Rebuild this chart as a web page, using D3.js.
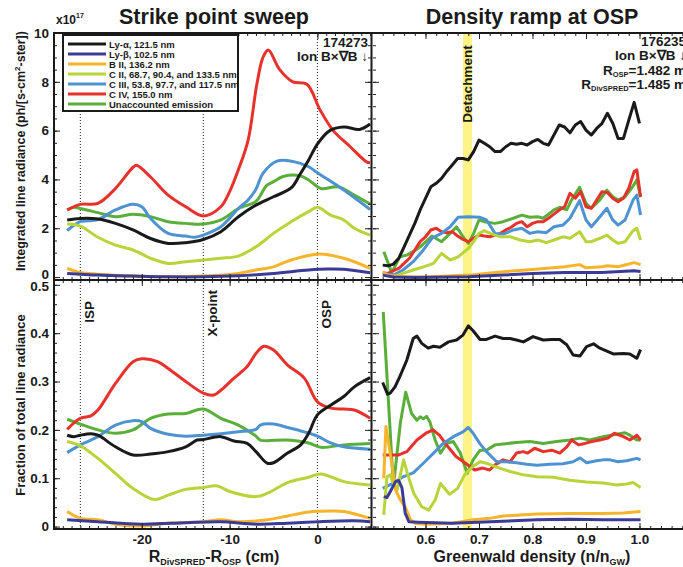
<!DOCTYPE html>
<html>
<head>
<meta charset="utf-8">
<script src="https://cdnjs.cloudflare.com/ajax/libs/d3/7.8.5/d3.min.js"></script>
<style>
body { margin: 0; background: #fff; }
text { font-family: "Liberation Sans", Arial, sans-serif; font-weight: bold; fill: #1a1a1a; }
</style>
</head>
<body>
<div id="chart"></div>
<script>
// legend order
var seriesLabels = ['Ly-α, 121.5 nm', 'Ly-β, 102.5 nm', 'B II, 136.2 nm', 'C II, 68.7, 90.4, and 133.5 nm',
  'C III, 53.8, 97.7, and 117.5 nm', 'C IV, 155.0 nm', 'Unaccounted emission']
var seriesColors = ['#1a1a1a', '#3b3b96', '#f6b42c', '#b9d43a', '#4e93d1', '#e6322b', '#5aae3a']

// strike point sweep, integrated radiance (x10^17), x in cm
var sweepRadLyA = [[-28.5,2.34],[-27,2.40],[-25,2.38],[-23,2.2],[-21,1.93],[-19,1.58],[-17,1.38],[-15,1.41],[-13,1.54],[-11,1.86],[-9,2.47],[-7,2.95],[-5,3.29],[-3,3.65],[-2,4.2],[-1,4.8],[0,5.45],[1.4,6.0],[3,6.15],[4.8,6.05],[6,6.27]]
var sweepRadLyB = [[-28.5,0.15],[-25,0.08],[-21,0.04],[-17,0.01],[-13,0.01],[-9,0.05],[-5,0.15],[-1,0.29],[1.1,0.33],[3,0.32],[6,0.18]]
var sweepRadB2 = [[-28.5,0.36],[-27,0.19],[-25,0.12],[-21,0.04],[-17,0.01],[-13,0.04],[-9,0.15],[-7,0.29],[-5,0.42],[-3,0.70],[0,0.94],[3,0.77],[6,0.36]]
var sweepRadC2 = [[-28.5,2.17],[-27,2.09],[-25,1.63],[-23,1.31],[-21,1.11],[-19,0.77],[-17,0.56],[-15,0.63],[-13,0.70],[-11,0.77],[-9,0.86],[-7,1.24],[-5,1.79],[-3,2.27],[-1,2.68],[0,2.86],[1.5,2.54],[3,2.34],[4.2,2.0],[6,1.72]]
var sweepRadC3 = [[-28.5,1.90],[-27.7,2.13],[-27,2.27],[-25,2.36],[-23,2.75],[-21,2.98],[-20,2.88],[-19,2.4],[-17,1.79],[-15,1.68],[-14,1.63],[-13,1.72],[-11,2.06],[-9,2.81],[-7.9,3.16],[-7,3.6],[-6.2,4.25],[-4.6,4.75],[-2.7,4.73],[-1,4.52],[0,4.27],[3,3.57],[6,2.77]]
var sweepRadC4 = [[-28.5,2.75],[-27,2.98],[-25,3.02],[-23,3.63],[-21,4.5],[-20.6,4.58],[-19,4.1],[-17,3.36],[-15,2.88],[-13,2.5],[-11,2.88],[-10,3.5],[-9,4.4],[-7.9,5.6],[-6.9,7.9],[-6.2,9.0],[-5.6,9.3],[-4.3,8.5],[-2.8,8.0],[-1.2,7.9],[0.3,6.85],[1.8,6.0],[3.7,5.35],[5.6,4.72],[6,4.68]]
var sweepRadUnacc = [[-28.5,2.75],[-27.7,2.86],[-27,2.81],[-25,2.64],[-23,2.47],[-21,2.57],[-19,2.47],[-17,2.27],[-15,2.2],[-13,2.17],[-11,2.34],[-9,2.81],[-7,3.1],[-5.8,3.75],[-5,3.91],[-3.9,4.12],[-2,4.15],[-1,3.98],[0.4,3.63],[2.3,3.70],[4.2,3.36],[6,2.99]]

// strike point sweep, fraction of total
var sweepFracLyA = [[-28.5,0.189],[-27.7,0.186],[-27,0.189],[-25.8,0.192],[-25,0.189],[-23,0.165],[-21,0.148],[-19,0.150],[-17,0.155],[-15,0.165],[-13.7,0.179],[-13,0.180],[-11,0.186],[-9.5,0.177],[-8,0.172],[-7,0.155],[-5.7,0.131],[-5,0.132],[-3.4,0.152],[-1.9,0.169],[-1,0.193],[0,0.231],[1.5,0.251],[3,0.269],[4.2,0.289],[6,0.308]]
var sweepFracLyB = [[-28.5,0.014],[-25,0.010],[-20,0.005],[-15,0.008],[-11,0.010],[-7,0.005],[-3.4,0.007],[0,0.010],[4.2,0.012],[6,0.010]]
var sweepFracB2 = [[-28.5,0.031],[-27,0.017],[-25,0.014],[-23,0.005],[-20,0.001],[-17,0.007],[-13,0.010],[-11,0.014],[-9,0.010],[-5.7,0.014],[-3.4,0.022],[-1,0.030],[1.5,0.032],[3,0.031],[6,0.017]]
var sweepFracC2 = [[-28.5,0.176],[-27,0.167],[-25,0.141],[-23,0.110],[-21,0.079],[-18.6,0.056],[-17,0.065],[-15,0.077],[-13,0.081],[-11.4,0.084],[-9.9,0.072],[-7,0.062],[-5.7,0.069],[-3.4,0.091],[-1,0.102],[0.4,0.109],[3,0.093],[6,0.086]]
var sweepFracC3 = [[-28.5,0.153],[-27,0.169],[-25,0.186],[-23,0.21],[-21,0.219],[-20,0.217],[-19,0.203],[-17,0.191],[-15,0.187],[-13,0.189],[-11,0.192],[-9,0.196],[-7,0.201],[-6.5,0.21],[-5,0.212],[-3.4,0.205],[-1.5,0.196],[0,0.187],[1.5,0.173],[3,0.165],[6,0.160]]
var sweepFracC4 = [[-28.5,0.201],[-27,0.224],[-25.8,0.229],[-25,0.241],[-23,0.296],[-21,0.341],[-20,0.347],[-18.2,0.341],[-17,0.327],[-15,0.30],[-13,0.276],[-11.8,0.272],[-11,0.282],[-9.5,0.307],[-8,0.331],[-7,0.358],[-6.1,0.373],[-5,0.365],[-3.4,0.334],[-1.5,0.307],[0,0.258],[1.5,0.245],[3,0.243],[4.2,0.241],[6,0.224]]
var sweepFracUnacc = [[-28.5,0.222],[-27,0.212],[-25,0.20],[-23,0.193],[-21,0.20],[-19,0.224],[-17,0.233],[-15,0.234],[-13,0.243],[-11,0.224],[-9,0.21],[-7,0.187],[-6.5,0.179],[-3.4,0.179],[-1,0.173],[0.4,0.164],[3,0.169],[6,0.172]]

// density ramp, integrated radiance (x10^17), x in n/nGW
var rampRadLyA = [[0.52,0.49],[0.53,0.46],[0.54,0.53],[0.55,0.77],[0.56,1.24],[0.57,1.72],[0.58,2.2],[0.59,2.75],[0.60,3.22],[0.61,3.70],[0.62,3.84],[0.63,4.04],[0.64,4.34],[0.65,4.59],[0.66,4.86],[0.67,4.86],[0.68,4.80],[0.69,5.14],[0.70,5.61],[0.71,5.48],[0.72,5.34],[0.73,5.14],[0.74,5.14],[0.75,5.34],[0.76,5.48],[0.77,5.44],[0.78,5.48],[0.79,5.41],[0.80,5.55],[0.81,5.64],[0.82,5.48],[0.83,5.41],[0.84,5.82],[0.85,6.23],[0.86,6.15],[0.87,5.91],[0.88,6.23],[0.89,6.37],[0.90,6.02],[0.91,5.82],[0.92,6.09],[0.93,6.30],[0.94,6.71],[0.95,6.30],[0.96,5.68],[0.97,5.68],[0.98,6.43],[0.99,7.16],[1.0,6.3]]
var rampRadLyB = [[0.52,0.08],[0.54,0.0],[0.58,-0.02],[0.68,0.01],[0.745,0.08],[0.8,0.15],[0.86,0.19],[0.93,0.19],[0.99,0.26],[1.002,0.23]]
var rampRadB2 = [[0.52,0.18],[0.53,0.08],[0.55,0.02],[0.6,0.0],[0.68,0.08],[0.745,0.22],[0.8,0.31],[0.86,0.42],[0.888,0.51],[0.9,0.38],[0.93,0.42],[0.94,0.46],[0.96,0.42],[0.99,0.59],[1.002,0.51]]
var rampRadC2 = [[0.522,0.08],[0.54,0.01],[0.558,0.15],[0.577,0.29],[0.596,0.42],[0.615,0.56],[0.63,0.97],[0.646,0.70],[0.661,0.83],[0.68,1.17],[0.69,1.45],[0.70,1.79],[0.71,1.90],[0.721,1.79],[0.739,1.65],[0.758,1.65],[0.777,1.52],[0.795,1.45],[0.81,1.52],[0.826,1.41],[0.84,1.52],[0.857,1.65],[0.87,1.59],[0.888,1.86],[0.9,1.45],[0.91,1.45],[0.926,1.59],[0.939,1.72],[0.95,1.52],[0.96,1.38],[0.973,1.45],[0.988,1.90],[0.995,2.0],[1.002,1.52]]
var rampRadC3 = [[0.522,0.15],[0.54,0.08],[0.558,0.29],[0.577,0.63],[0.596,1.11],[0.612,1.59],[0.63,1.79],[0.646,2.06],[0.661,2.45],[0.68,2.47],[0.702,2.45],[0.714,2.34],[0.73,1.79],[0.745,1.76],[0.764,1.93],[0.78,2.0],[0.795,1.79],[0.81,1.86],[0.826,1.82],[0.84,2.06],[0.857,2.13],[0.87,2.41],[0.888,3.13],[0.9,2.34],[0.91,2.06],[0.926,2.47],[0.939,2.82],[0.95,2.34],[0.96,2.13],[0.973,2.34],[0.988,3.16],[0.995,3.36],[1.002,2.54]]
var rampRadC4 = [[0.52,0.18],[0.53,0.15],[0.54,0.26],[0.55,0.36],[0.56,0.56],[0.57,0.77],[0.58,1.11],[0.59,1.45],[0.60,1.65],[0.61,1.93],[0.62,2.0],[0.63,1.86],[0.64,1.82],[0.65,1.86],[0.66,1.68],[0.67,1.54],[0.68,1.45],[0.69,1.59],[0.70,1.72],[0.71,1.68],[0.72,1.65],[0.73,1.72],[0.74,1.79],[0.75,1.93],[0.76,2.04],[0.77,2.2],[0.78,2.27],[0.79,2.06],[0.80,2.2],[0.81,2.27],[0.82,2.27],[0.83,2.41],[0.84,2.58],[0.85,2.75],[0.86,2.88],[0.87,3.43],[0.88,3.23],[0.89,3.5],[0.90,2.88],[0.91,2.82],[0.92,3.16],[0.93,3.5],[0.94,3.46],[0.95,3.23],[0.96,3.09],[0.97,3.23],[0.98,3.64],[0.99,4.32],[0.995,4.39],[1.002,3.29]]
var rampRadUnacc = [[0.522,1.04],[0.537,0.18],[0.552,0.83],[0.565,0.9],[0.577,1.04],[0.59,1.24],[0.612,1.68],[0.63,1.45],[0.646,1.79],[0.658,2.06],[0.67,1.65],[0.68,1.38],[0.69,1.79],[0.70,2.34],[0.71,2.27],[0.73,2.2],[0.745,2.27],[0.764,2.41],[0.78,2.54],[0.795,2.45],[0.81,2.47],[0.82,2.41],[0.84,2.75],[0.851,2.86],[0.864,2.75],[0.873,3.16],[0.888,3.68],[0.9,3.02],[0.91,2.82],[0.926,3.16],[0.939,3.56],[0.95,3.29],[0.96,3.16],[0.973,3.29],[0.988,3.73],[0.995,3.98],[1.002,3.27]]

// density ramp, fraction of total
var rampFracLyA = [[0.520,0.298],[0.529,0.274],[0.534,0.276],[0.543,0.289],[0.552,0.31],[0.565,0.344],[0.577,0.389],[0.584,0.394],[0.593,0.379],[0.605,0.369],[0.615,0.373],[0.627,0.371],[0.643,0.382],[0.658,0.386],[0.670,0.396],[0.680,0.415],[0.689,0.405],[0.702,0.387],[0.714,0.387],[0.730,0.394],[0.745,0.389],[0.758,0.389],[0.770,0.386],[0.783,0.382],[0.801,0.393],[0.820,0.386],[0.836,0.387],[0.851,0.387],[0.864,0.376],[0.876,0.355],[0.889,0.353],[0.901,0.372],[0.914,0.378],[0.926,0.369],[0.939,0.363],[0.951,0.357],[0.970,0.358],[0.982,0.357],[0.995,0.348],[1.002,0.366]]
var rampFracLyB = [[0.522,0.062],[0.528,0.06],[0.534,0.072],[0.544,0.093],[0.550,0.095],[0.556,0.08],[0.562,0.028],[0.569,0.010],[0.587,0.009],[0.65,0.007],[0.745,0.011],[0.808,0.014],[0.870,0.015],[0.932,0.014],[1.002,0.014]]
var rampFracB2 = [[0.522,0.10],[0.526,0.207],[0.534,0.152],[0.544,0.076],[0.553,0.055],[0.562,0.041],[0.572,0.014],[0.581,0.007],[0.6,0.005],[0.65,0.007],[0.689,0.014],[0.72,0.017],[0.745,0.022],[0.808,0.026],[0.870,0.027],[0.932,0.027],[0.970,0.028],[1.002,0.031]]
var rampFracC2 = [[0.522,0.024],[0.528,0.103],[0.534,0.107],[0.540,0.089],[0.547,0.076],[0.559,0.138],[0.568,0.103],[0.578,0.069],[0.593,0.041],[0.606,0.034],[0.618,0.055],[0.628,0.089],[0.645,0.067],[0.660,0.079],[0.673,0.107],[0.689,0.125],[0.702,0.134],[0.714,0.131],[0.733,0.123],[0.758,0.114],[0.783,0.107],[0.808,0.103],[0.839,0.102],[0.870,0.096],[0.901,0.092],[0.932,0.090],[0.957,0.086],[0.976,0.088],[0.988,0.091],[1.002,0.081]]
var rampFracC3 = [[0.520,0.079],[0.540,0.090],[0.558,0.103],[0.577,0.111],[0.596,0.131],[0.615,0.152],[0.633,0.172],[0.652,0.186],[0.670,0.196],[0.680,0.205],[0.689,0.193],[0.702,0.171],[0.714,0.155],[0.733,0.134],[0.751,0.134],[0.770,0.132],[0.789,0.129],[0.808,0.127],[0.833,0.129],[0.857,0.130],[0.876,0.134],[0.889,0.142],[0.901,0.132],[0.920,0.136],[0.932,0.138],[0.945,0.138],[0.960,0.134],[0.976,0.136],[0.995,0.141],[1.002,0.138]]
var rampFracC4 = [[0.520,0.148],[0.549,0.148],[0.565,0.155],[0.584,0.179],[0.602,0.194],[0.614,0.20],[0.626,0.189],[0.642,0.165],[0.657,0.145],[0.680,0.127],[0.692,0.117],[0.707,0.121],[0.720,0.117],[0.729,0.127],[0.745,0.138],[0.758,0.134],[0.770,0.152],[0.783,0.155],[0.791,0.152],[0.804,0.162],[0.820,0.155],[0.836,0.158],[0.851,0.152],[0.864,0.165],[0.873,0.179],[0.886,0.169],[0.898,0.172],[0.911,0.176],[0.926,0.179],[0.941,0.183],[0.953,0.193],[0.970,0.186],[0.982,0.179],[0.995,0.189],[1.002,0.179]]
var rampFracUnacc = [[0.521,0.444],[0.540,0.083],[0.553,0.214],[0.563,0.278],[0.574,0.234],[0.584,0.22],[0.590,0.227],[0.596,0.223],[0.602,0.228],[0.608,0.217],[0.618,0.179],[0.628,0.152],[0.640,0.172],[0.652,0.176],[0.665,0.152],[0.678,0.110],[0.689,0.138],[0.702,0.158],[0.714,0.158],[0.730,0.169],[0.745,0.171],[0.770,0.174],[0.795,0.176],[0.820,0.172],[0.845,0.176],[0.870,0.179],[0.889,0.183],[0.907,0.179],[0.932,0.186],[0.957,0.191],[0.973,0.194],[0.982,0.189],[0.995,0.179],[1.002,0.179]]

// ticks and markers
var sweepMarkers = [{ x: -27, label: 'ISP' }, { x: -13, label: 'X-point' }, { x: 0, label: 'OSP' }]
var detachBand = [0.67, 0.687]
var radTicks = [0, 2, 4, 6, 8, 10]
var fracTicks = [0, 0.1, 0.2, 0.3, 0.4, 0.5]
var sweepTicks = [-20, -10, 0]
var rampTicks = [0.6, 0.7, 0.8, 0.9, 1.0]

var sweepRad = [sweepRadLyA, sweepRadLyB, sweepRadB2, sweepRadC2, sweepRadC3, sweepRadC4, sweepRadUnacc]
var sweepFrac = [sweepFracLyA, sweepFracLyB, sweepFracB2, sweepFracC2, sweepFracC3, sweepFracC4, sweepFracUnacc]
var rampRad = [rampRadLyA, rampRadLyB, rampRadB2, rampRadC2, rampRadC3, rampRadC4, rampRadUnacc]
var rampFrac = [rampFracLyA, rampFracLyB, rampFracB2, rampFracC2, rampFracC3, rampFracC4, rampFracUnacc]

var width = 683
var height = 567

var svg = d3.select('#chart')
  .append('svg')
  .attr('width', width)
  .attr('height', height)

var xL = d3.scaleLinear().domain([-30, 6.1]).range([54, 371])
var xR = d3.scaleLinear().domain([0.5, 1.1]).range([372, 693])
var yTop = d3.scaleLinear().domain([-0.12, 10]).range([280, 33])
var yBot = d3.scaleLinear().domain([-0.005, 0.51]).range([529, 280])

var panels = [
  { id: 'tl', x: xL, y: yTop, data: sweepRad, curve: d3.curveCatmullRom.alpha(0.5) },
  { id: 'bl', x: xL, y: yBot, data: sweepFrac, curve: d3.curveCatmullRom.alpha(0.5) },
  { id: 'tr', x: xR, y: yTop, data: rampRad, curve: d3.curveLinear },
  { id: 'br', x: xR, y: yBot, data: rampFrac, curve: d3.curveLinear }
]

var defs = svg.append('defs')

// detachment band
svg.append('rect')
  .attr('x', xR(detachBand[0]))
  .attr('y', yTop.range()[1])
  .attr('width', xR(detachBand[1]) - xR(detachBand[0]))
  .attr('height', yBot.range()[0] - yTop.range()[1])
  .attr('fill', '#fdf386')

// dotted markers
svg.selectAll('.marker')
  .data(sweepMarkers)
  .enter()
  .append('line')
  .attr('x1', d => xL(d.x))
  .attr('x2', d => xL(d.x))
  .attr('y1', yTop.range()[1])
  .attr('y2', yBot.range()[0])
  .attr('stroke', '#222')
  .attr('stroke-width', 1)
  .attr('stroke-dasharray', '1,2')

// curves, drawn last series first so Ly-alpha is on top
panels.forEach(function (p) {
  var xr = p.x.range()
  var yr = p.y.range()
  defs.append('clipPath').attr('id', 'clip-' + p.id)
    .append('rect')
    .attr('x', Math.min(xr[0], xr[1]))
    .attr('y', yr[1])
    .attr('width', Math.abs(xr[1] - xr[0]))
    .attr('height', yr[0] - yr[1])

  var line = d3.line()
    .x(d => p.x(d[0]))
    .y(d => p.y(d[1]))
    .curve(p.curve)

  var g = svg.append('g').attr('clip-path', 'url(#clip-' + p.id + ')')
  var order = [6, 5, 4, 3, 2, 1, 0]
  order.forEach(function (i) {
    g.append('path')
      .attr('d', line(p.data[i]))
      .attr('fill', 'none')
      .attr('stroke', seriesColors[i])
      .attr('stroke-width', 3)
      .attr('stroke-linejoin', 'round')
  })
})

// ticks (all point inward)
function ticks(axis, tx, ty) {
  var g = svg.append('g')
    .attr('transform', 'translate(' + tx + ',' + ty + ')')
    .call(axis)
  g.select('.domain').remove()
  g.selectAll('line').attr('stroke', '#222')
  g.selectAll('text')
    .attr('font-size', 13.5)
    .attr('font-family', '"Liberation Sans", Arial, sans-serif')
    .attr('font-weight', 'bold')
    .attr('fill', '#1a1a1a')
  return g
}

var hyphen = d => (d < 0 ? '-' + Math.abs(d) : '' + d)
var radMinor = d3.range(0, 10.01, 0.5)
var fracMinor = d3.range(0, 0.501, 0.02)
var sweepMinor = d3.range(-29, 6.1, 1)
var rampMinor = d3.range(0.52, 1.1, 0.02)

// left panel, y
var zeroLabel = ticks(d3.axisLeft(yTop).tickValues(radTicks).tickSize(-6).tickPadding(5).tickFormat(d3.format('d')), 54, 0)
zeroLabel.selectAll('text').filter(d => d === 0).attr('dy', '0.1em')
ticks(d3.axisLeft(yTop).tickValues(radMinor).tickSize(-3).tickFormat(''), 54, 0)
ticks(d3.axisLeft(yBot).tickValues(fracTicks).tickSize(-6).tickPadding(5).tickFormat(d => (d === 0 ? '0' : d3.format('.1f')(d))), 54, 0)
  .selectAll('text').filter(d => d === 0.5).attr('dy', '0.45em')
ticks(d3.axisLeft(yBot).tickValues(fracMinor).tickSize(-3).tickFormat(''), 54, 0)
ticks(d3.axisRight(yTop).tickValues(radTicks).tickSize(-6).tickFormat(''), 371, 0)
ticks(d3.axisRight(yTop).tickValues(radMinor).tickSize(-3).tickFormat(''), 371, 0)
ticks(d3.axisRight(yBot).tickValues(fracTicks).tickSize(-6).tickFormat(''), 371, 0)
ticks(d3.axisRight(yBot).tickValues(fracMinor).tickSize(-3).tickFormat(''), 371, 0)
// right panel, y
ticks(d3.axisLeft(yTop).tickValues(radTicks).tickSize(-6).tickFormat(''), 373, 0)
ticks(d3.axisLeft(yTop).tickValues(radMinor).tickSize(-3).tickFormat(''), 373, 0)
ticks(d3.axisLeft(yBot).tickValues(fracTicks).tickSize(-6).tickFormat(''), 373, 0)
ticks(d3.axisLeft(yBot).tickValues(fracMinor).tickSize(-3).tickFormat(''), 373, 0)

// x ticks on top edge, divider and bottom edge
;[[xL, sweepTicks, sweepMinor], [xR, rampTicks, rampMinor]].forEach(function (s) {
  ticks(d3.axisTop(s[0]).tickValues(s[1]).tickSize(-6).tickFormat(''), 0, 33)
  ticks(d3.axisTop(s[0]).tickValues(s[2]).tickSize(-3).tickFormat(''), 0, 33)
  ticks(d3.axisBottom(s[0]).tickValues(s[1]).tickSize(-6).tickFormat(''), 0, 280)
  ticks(d3.axisBottom(s[0]).tickValues(s[2]).tickSize(-3).tickFormat(''), 0, 280)
  ticks(d3.axisTop(s[0]).tickValues(s[1]).tickSize(-6).tickFormat(''), 0, 280)
  ticks(d3.axisTop(s[0]).tickValues(s[2]).tickSize(-3).tickFormat(''), 0, 280)
  ticks(d3.axisBottom(s[0]).tickValues(s[2]).tickSize(-3).tickFormat(''), 0, 529)
})
ticks(d3.axisBottom(xL).tickValues(sweepTicks).tickSize(-6).tickPadding(5).tickFormat(hyphen), 0, 529)
ticks(d3.axisBottom(xR).tickValues(rampTicks).tickSize(-6).tickPadding(5).tickFormat(d3.format('.1f')), 0, 529)

// frames
var frame = svg.append('g').attr('fill', 'none').attr('stroke', '#1a1a1a').attr('stroke-width', 2)
frame.append('rect').attr('x', 54).attr('y', 33).attr('width', 660).attr('height', 496)
frame.append('line').attr('x1', 54).attr('x2', 700).attr('y1', 280).attr('y2', 280)
frame.append('line').attr('x1', 371.5).attr('x2', 371.5).attr('y1', 33).attr('y2', 529)

// legend
var legend = svg.append('g')
legend.append('rect')
  .attr('x', 63).attr('y', 35).attr('width', 175).attr('height', 76)
  .attr('fill', '#fff').attr('stroke', '#1a1a1a').attr('stroke-width', 2)
seriesLabels.forEach(function (label, i) {
  var ly = 44 + i * 10
  legend.append('line')
    .attr('x1', 68).attr('x2', 106).attr('y1', ly).attr('y2', ly)
    .attr('stroke', seriesColors[i]).attr('stroke-width', 3)
  legend.append('text')
    .attr('x', 109).attr('y', ly + 3.5)
    .attr('font-size', 9.5)
    .text(label)
})

// titles
svg.append('text').attr('x', 214).attr('y', 24).attr('text-anchor', 'middle')
  .attr('font-size', 21.5).text('Strike point sweep')
svg.append('text').attr('x', 532).attr('y', 24).attr('text-anchor', 'middle')
  .attr('font-size', 21.5).text('Density ramp at OSP')

var exp = svg.append('text').attr('x', 56).attr('y', 24).attr('font-size', 12)
exp.append('tspan').text('x10')
exp.append('tspan').attr('font-size', 7).attr('dy', -6).text('17')

// axis titles
var yt = svg.append('text')
  .attr('transform', 'translate(25,151) rotate(-90)')
  .attr('text-anchor', 'middle').attr('font-size', 12.5)
yt.append('tspan').text('Integrated line radiance (ph/[s-cm')
yt.append('tspan').attr('font-size', 8).attr('dy', -5).text('2')
yt.append('tspan').attr('dy', 5).text('-ster])')

svg.append('text')
  .attr('transform', 'translate(25,405) rotate(-90)')
  .attr('text-anchor', 'middle').attr('font-size', 13)
  .text('Fraction of total line radiance')

var xt = svg.append('text').attr('x', 214).attr('y', 562).attr('text-anchor', 'middle').attr('font-size', 16)
xt.append('tspan').text('R')
xt.append('tspan').attr('font-size', 9).attr('dy', 3).text('DivSPRED')
xt.append('tspan').attr('dy', -3).text('-R')
xt.append('tspan').attr('font-size', 9).attr('dy', 3).text('OSP')
xt.append('tspan').attr('dy', -3).text(' (cm)')

var xt2 = svg.append('text').attr('x', 532).attr('y', 562).attr('text-anchor', 'middle').attr('font-size', 16)
xt2.append('tspan').text('Greenwald density (n/n')
xt2.append('tspan').attr('font-size', 9).attr('dy', 3).text('GW')
xt2.append('tspan').attr('dy', -3).text(')')

// shot annotations
svg.append('text').attr('x', 368).attr('y', 47).attr('text-anchor', 'end').attr('font-size', 13.5).text('174273')
svg.append('text').attr('x', 368).attr('y', 61).attr('text-anchor', 'end').attr('font-size', 13.5).text('Ion B×∇B ↓')

svg.append('text').attr('x', 686).attr('y', 46).attr('text-anchor', 'end').attr('font-size', 13.5).text('176235')
svg.append('text').attr('x', 686).attr('y', 60).attr('text-anchor', 'end').attr('font-size', 13.5).text('Ion B×∇B ↓')
var r1 = svg.append('text').attr('x', 686).attr('y', 75).attr('text-anchor', 'end').attr('font-size', 13.5)
r1.append('tspan').text('R')
r1.append('tspan').attr('font-size', 7.5).attr('dy', 2).text('OSP')
r1.append('tspan').attr('dy', -2).text('=1.482 m')
var r2 = svg.append('text').attr('x', 686).attr('y', 89).attr('text-anchor', 'end').attr('font-size', 13.5)
r2.append('tspan').text('R')
r2.append('tspan').attr('font-size', 7.5).attr('dy', 2).text('DivSPRED')
r2.append('tspan').attr('dy', -2).text('=1.485 m')

// vertical labels
svg.append('text')
  .attr('transform', 'translate(' + (xR((detachBand[0] + detachBand[1]) / 2) + 5) + ',84) rotate(-90)')
  .attr('text-anchor', 'middle').attr('font-size', 13.5).text('Detachment')

var markerTop = { 'ISP': 301, 'X-point': 290, 'OSP': 300 }
sweepMarkers.forEach(function (m) {
  svg.append('text')
    .attr('transform', 'translate(' + (xL(m.x) + 14) + ',' + markerTop[m.label] + ') rotate(-90)')
    .attr('text-anchor', 'end').attr('font-size', 13.5).text(m.label)
})
</script>
</body>
</html>
